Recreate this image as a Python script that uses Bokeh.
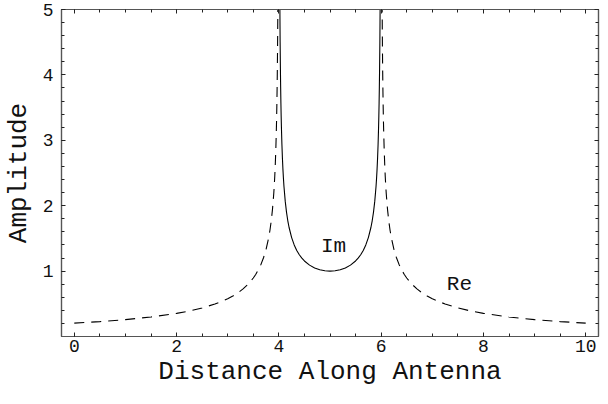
from bokeh.plotting import figure
from bokeh.models import Range1d, FixedTicker, LinearAxis, CustomLabelingPolicy
from bokeh.core.properties import value
from bokeh.embed import file_html
from bokeh.resources import INLINE

# Re part (dashed), left branch
re_left_x = [0.0, 0.5, 1.0, 1.5, 2.0, 2.25, 2.5, 2.75, 3.0, 3.1, 3.2, 3.3, 3.4, 3.5,
             3.55, 3.6, 3.65, 3.7, 3.75, 3.8, 3.825, 3.85, 3.875, 3.9, 3.91, 3.92,
             3.93, 3.94, 3.95, 3.955, 3.96, 3.965, 3.97, 3.975, 3.98, 3.981]
re_left_y = [0.2041, 0.2279, 0.2582, 0.2981, 0.3536, 0.3904, 0.4364, 0.4961, 0.5774,
             0.6190, 0.6682, 0.7274, 0.8006, 0.8944, 0.9524, 1.0206, 1.1026, 1.2039,
             1.3333, 1.5076, 1.6209, 1.7609, 1.9403, 2.1822, 2.3057, 2.4514, 2.6270,
             2.8444, 3.1235, 3.2965, 3.5007, 3.7470, 4.0522, 4.4444, 4.9752, 5.1057]
# Re part (dashed), right branch
re_right_x = [6.019, 6.02, 6.025, 6.03, 6.035, 6.04, 6.045, 6.05, 6.06, 6.07, 6.08,
              6.09, 6.1, 6.125, 6.15, 6.175, 6.2, 6.25, 6.3, 6.35, 6.4, 6.45, 6.5,
              6.6, 6.7, 6.8, 6.9, 7.0, 7.25, 7.5, 7.75, 8.0, 8.5, 9.0, 9.5, 10.0]
re_right_y = [5.1057, 4.9752, 4.4444, 4.0522, 3.7470, 3.5007, 3.2965, 3.1235, 2.8444,
              2.6270, 2.4514, 2.3057, 2.1822, 1.9403, 1.7609, 1.6209, 1.5076, 1.3333,
              1.2039, 1.1026, 1.0206, 0.9524, 0.8944, 0.8006, 0.7274, 0.6682, 0.6190,
              0.5774, 0.4961, 0.4364, 0.3904, 0.3536, 0.2981, 0.2582, 0.2279, 0.2041]
# Im part (solid)
im_x = [4.02, 4.025, 4.03, 4.035, 4.04, 4.045, 4.05, 4.06, 4.07, 4.08, 4.09, 4.1,
        4.125, 4.15, 4.175, 4.2, 4.25, 4.3, 4.35, 4.4, 4.45, 4.5, 4.6, 4.7, 4.8, 4.9,
        5.0, 5.1, 5.2, 5.3, 5.4, 5.5, 5.55, 5.6, 5.65, 5.7, 5.75, 5.8, 5.825, 5.85,
        5.875, 5.9, 5.91, 5.92, 5.93, 5.94, 5.95, 5.955, 5.96, 5.965, 5.97, 5.975, 5.98]
im_y = [5.0252, 4.5004, 4.1135, 3.8132, 3.5714, 3.3715, 3.2026, 2.9311, 2.7207, 2.5516,
        2.4119, 2.2942, 2.0656, 1.8983, 1.7695, 1.6667, 1.5119, 1.4003, 1.3159, 1.25,
        1.1974, 1.1547, 1.0911, 1.0483, 1.0206, 1.0050, 1.0, 1.0050, 1.0206, 1.0483,
        1.0911, 1.1547, 1.1974, 1.25, 1.3159, 1.4003, 1.5119, 1.6667, 1.7695, 1.8983,
        2.0656, 2.2942, 2.4119, 2.5516, 2.7207, 2.9311, 3.2026, 3.3715, 3.5714, 3.8132,
        4.1135, 4.5004, 5.0252]

label_x = [5.07, 7.53]
label_y = [1.38, 0.79]
label_text = ["Im", "Re"]

x_major = [0, 2, 4, 6, 8, 10]
x_minor = [0, 0.5, 1, 1.5, 2, 2.5, 3, 3.5, 4, 4.5, 5, 5.5, 6, 6.5, 7, 7.5, 8, 8.5, 9, 9.5, 10]
y_major = [1, 2, 3, 4, 5]
y_minor = [0.2, 0.4, 0.6, 0.8, 1, 1.2, 1.4, 1.6, 1.8, 2, 2.2, 2.4, 2.6, 2.8, 3, 3.2,
           3.4, 3.6, 3.8, 4, 4.2, 4.4, 4.6, 4.8, 5]

FONT = "Liberation Mono"
AXIS_COLOR = "#555555"

p = figure(width=600, height=394, output_backend="svg", toolbar_location=None,
           x_range=Range1d(-0.25, 10.25), y_range=Range1d(0, 5),
           min_border_left=58, min_border_right=2, min_border_top=9, min_border_bottom=58)
p.background_fill_color = "white"
p.border_fill_color = "white"
p.grid.visible = False
p.outline_line_color = AXIS_COLOR
p.outline_line_width = 1.2

p.line(re_left_x, re_left_y, line_color="black", line_width=1.1, line_dash="10 7")
p.line(re_right_x, re_right_y, line_color="black", line_width=1.1, line_dash="10 7")
p.line(im_x, im_y, line_color="black", line_width=1.1)

p.text(x=label_x, y=label_y, text=label_text, text_font=value(FONT),
       text_font_size="21px", text_align="center", text_baseline="middle",
       text_color="#111111")

def style_axis(ax, ticks, minor, labels=True):
    ax.ticker = FixedTicker(ticks=ticks, minor_ticks=minor)
    ax.axis_line_color = AXIS_COLOR
    ax.axis_line_width = 1.2
    ax.major_tick_line_color = "#222222"
    ax.minor_tick_line_color = "#222222"
    ax.major_tick_in = 4
    ax.major_tick_out = 0
    ax.minor_tick_in = 3
    ax.minor_tick_out = 0
    ax.major_label_text_font = FONT
    ax.major_label_text_color = "#111111"
    if labels:
        ax.major_label_text_font_size = "18px"
    else:
        ax.major_label_text_font_size = "0px"
        ax.major_label_policy = CustomLabelingPolicy(code="return new Set()")
        ax.major_label_standoff = 0

xa = p.xaxis[0]
style_axis(xa, x_major, x_minor)
xa.major_label_standoff = 3
xa.axis_label = "Distance Along Antenna"
xa.axis_label_text_font = FONT
xa.axis_label_text_font_style = "normal"
xa.axis_label_text_color = "#111111"
xa.axis_label_text_font_size = "26px"
xa.axis_label_standoff = 2

ya = p.yaxis[0]
style_axis(ya, y_major, y_minor)
ya.major_label_standoff = 8
ya.major_label_orientation = "horizontal"
ya.axis_label = "Amplitude"
ya.axis_label_text_font = FONT
ya.axis_label_text_font_style = "normal"
ya.axis_label_text_color = "#111111"
ya.axis_label_text_font_size = "26px"
ya.axis_label_standoff = 6

top = LinearAxis()
style_axis(top, x_major, x_minor, labels=False)
p.add_layout(top, "above")
right = LinearAxis()
style_axis(right, y_major, y_minor, labels=False)
p.add_layout(right, "right")

open("out.html", "w").write(file_html(p, INLINE))
